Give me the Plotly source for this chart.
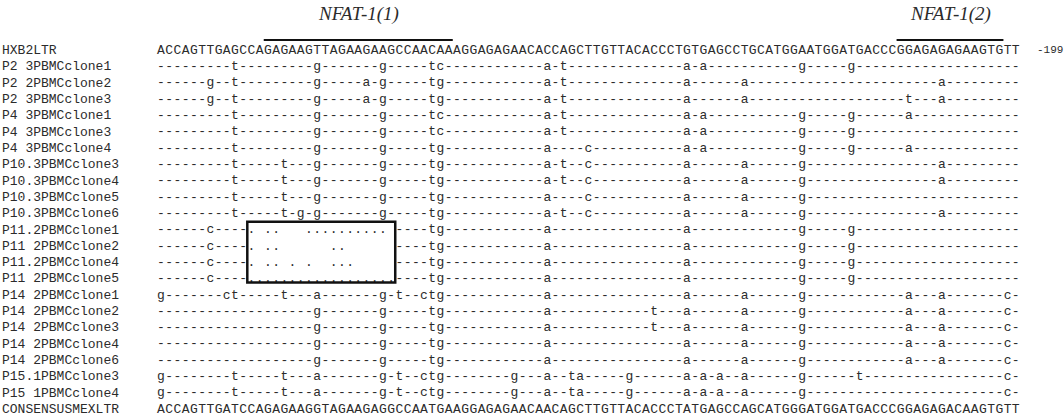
import plotly.graph_objects as go

# ---------------- data ----------------
hxb2_label = "HXB2LTR"
hxb2_seq = ("ACCAGTTGAG" "CCAGAGAAGT" "TAGAAGAAGC" "CAACAAAGGA" "GAGAACACCA"
            "GCTTGTTACA" "CCCTGTGAGC" "CTGCATGGAA" "TGGATGACCC" "GGAGAGAGAA" "GTGTT")
consensus_label = "CONSENSUSMEXLTR"
consensus_seq = ("ACCAGTTGAT" "CCAGAGAAGG" "TAGAAGAGGC" "CAATGAAGGA" "GAGAACAACA"
                 "GCTTGTTACA" "CCCTATGAGC" "CAGCATGGGA" "TGGATGACCC" "GGAGAGACAA" "GTGTT")

clone_labels = [
    "P2 3PBMCclone1", "P2 2PBMCclone2", "P2 3PBMCclone3",
    "P4 3PBMCclone1", "P4 3PBMCclone3", "P4 3PBMCclone4",
    "P10.3PBMCclone3", "P10.3PBMCclone4", "P10.3PBMCclone5", "P10.3PBMCclone6",
    "P11.2PBMCclone1", "P11 2PBMCclone2", "P11.2PBMCclone4", "P11 2PBMCclone5",
    "P14 2PBMCclone1", "P14 2PBMCclone2", "P14 2PBMCclone3", "P14 2PBMCclone4",
    "P14 2PBMCclone6", "P15.1PBMCclone3", "P15 1PBMCclone4",
]
# substitutions relative to HXB2 (alignment column + base)
clone_changes = [
    "9t 19g 27g 33t 34c 47a 49t 64a 66a 78g 84g",
    "6g 9t 19g 25a 27g 33t 34g 47a 49t 64a 71a 95a",
    "6g 9t 19g 25a 27g 33t 34g 47a 49t 64a 71a 91t 95a",
    "9t 19g 27g 33t 34c 47a 49t 64a 66a 78g 84g 91a",
    "9t 19g 27g 33t 34c 47a 49t 64a 66a 78g 84g",
    "9t 19g 27g 33t 34g 47a 52c 64a 66a 78g 84g 91a",
    "9t 15t 19g 27g 33t 34g 47a 49t 52c 64a 71a 78g 95a",
    "9t 15t 19g 27g 33t 34g 47a 49t 52c 64a 71a 78g 95a",
    "9t 15t 19g 27g 33t 34g 47a 52c 64a 71a 78g",
    "9t 15t 17g 19g 27g 33t 34g 47a 49t 52c 64a 71a 78g 95a",
    "6c 33t 34g 47a 64a 78g 84g",
    "6c 33t 34g 47a 64a 78g 84g",
    "6c 33t 34g 47a 64a 78g 84g",
    "6c 33t 34g 47a 64a 78g 84g",
    "0g 8c 9t 15t 19a 27g 29t 32c 33t 34g 47a 64a 71a 78g 91a 95a 103c",
    "19g 27g 33t 34g 47a 60t 64a 71a 78g 91a 95a 103c",
    "19g 27g 33t 34g 47a 60t 64a 71a 78g 91a 95a 103c",
    "19g 27g 33t 34g 47a 64a 71a 78g 91a 95a 103c",
    "19g 27g 33t 34g 47a 64a 71a 78g 91a 95a 103c",
    "0g 9t 15t 19a 27g 29t 32c 33t 34g 43g 47a 50t 51a 57g 64a 66a 68a 71a 78g 85t 103c",
    "0g 9t 15t 19a 27g 29t 32c 33t 34g 43g 47a 50t 51a 57g 64a 66a 68a 71a 78g 103c",
]

# boxed (deleted) region of the P11 clones
box_clones = ["P11.2PBMCclone1", "P11 2PBMCclone2", "P11.2PBMCclone4", "P11 2PBMCclone5"]
box_first_col = 11
box_last_col = 28
box_dots = [
    ". ..   .......... ",
    ". ..      ..      ",
    ". .. . .  ...     ",
    "..................",
]

site_names = ["NFAT-1(1)", "NFAT-1(2)"]
site_start = [13, 90]
site_end = [35, 102]
position_label = "-199"

# ---------------- build alignment rows ----------------
n_cols = len(hxb2_seq)
row_labels = [hxb2_label] + clone_labels + [consensus_label]
row_seqs = [hxb2_seq]
for lab, ch in zip(clone_labels, clone_changes):
    cells = ["-"] * n_cols
    for tok in ch.split():
        cells[int(tok[:-1])] = tok[-1]
    if lab in box_clones:
        pat = box_dots[box_clones.index(lab)]
        for k, c in enumerate(pat):
            cells[box_first_col + k] = c
    row_seqs.append("".join(cells))
row_seqs.append(consensus_seq)

xs, ys, ts = [], [], []
for i, s in enumerate(row_seqs):
    for c, ch in enumerate(s):
        if ch != " ":
            xs.append(c)
            ys.append(i)
            ts.append(ch)

ink = "#2b2b2b"
mono = "Liberation Mono, Courier New, monospace"

fig = go.Figure()
fig.add_trace(go.Scatter(
    x=xs, y=ys, text=ts, mode="text", textposition="middle center",
    textfont=dict(family=mono, size=13, color=ink), hoverinfo="skip", showlegend=False))

shapes = []
annotations = []

# row labels
for i, lab in enumerate(row_labels):
    annotations.append(dict(x=0, xref="paper", y=i, yref="y", xanchor="left", yanchor="middle",
                            text=lab, showarrow=False,
                            font=dict(family=mono, size=13, color=ink)))

# position label
annotations.append(dict(x=106.3, xref="x", y=0, yref="y", xanchor="left", yanchor="middle",
                        text=position_label, showarrow=False,
                        font=dict(family=mono, size=11, color=ink)))

for name, s0, s1 in zip(site_names, site_start, site_end):
    shapes.append(dict(type="line", xref="x", yref="y", x0=s0 - 0.5, x1=s1 + 0.5,
                       y0=-0.643, y1=-0.643, line=dict(color="#111", width=2)))
    annotations.append(dict(x=(s0 + s1) / 2, y=-2.22, xref="x", yref="y",
                            text="<i>" + name + "</i>", showarrow=False,
                            font=dict(family="Liberation Serif, Times New Roman, serif",
                                      size=19, color=ink)))

box_rows = [row_labels.index(b) for b in box_clones]
shapes.append(dict(type="rect", xref="x", yref="y",
                   x0=box_first_col - 0.5, x1=box_last_col + 0.5,
                   y0=min(box_rows) - 0.5, y1=max(box_rows) + 0.22,
                   line=dict(color="#111", width=2.5)))

fig.update_layout(
    width=1064, height=418, margin=dict(l=0, r=0, t=0, b=0),
    paper_bgcolor="white", plot_bgcolor="white",
    xaxis=dict(range=[-19.59, 109.87], visible=False, fixedrange=True),
    yaxis=dict(range=[22.52, -3.094], visible=False, fixedrange=True),
    shapes=shapes, annotations=annotations,
)

fig.write_html("out.html", config={"displayModeBar": False},
               post_script="document.body.style.margin='0';")
